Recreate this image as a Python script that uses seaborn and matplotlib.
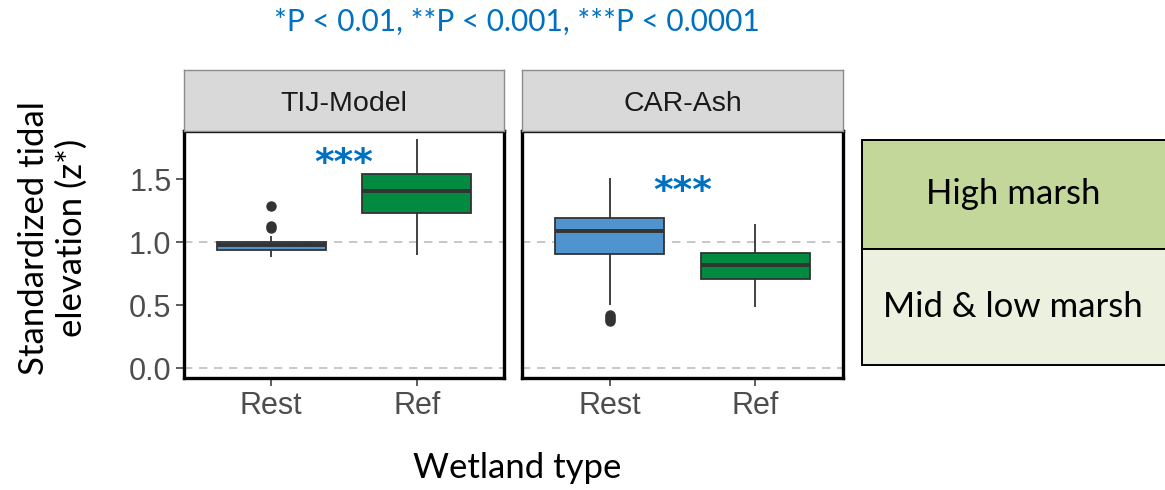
import matplotlib
matplotlib.use("Agg")
import matplotlib.pyplot as plt
from matplotlib.patches import Rectangle
import numpy as np
import pandas as pd
import seaborn as sns

# ---- data -------------------------------------------------------------
sites = ["TIJ-Model", "CAR-Ash"]
wetland_types = ["Rest", "Ref"]

# standardized tidal elevation (z*) observations per site / wetland type
tij_rest = [0.88, 0.90, 0.91, 0.92, 0.935, 0.94, 0.95, 0.96, 0.98, 0.985,
            0.99, 0.995, 1.00, 1.05, 1.11, 1.13, 1.285]
tij_ref = [0.897, 1.10, 1.233, 1.33, 1.405, 1.47, 1.54, 1.65, 1.815]
car_rest = [0.375, 0.39, 0.405, 0.42, 0.50, 0.905, 0.95, 0.99, 1.02, 1.05,
            1.087, 1.10, 1.12, 1.14, 1.16, 1.188, 1.22, 1.27, 1.33, 1.42, 1.513]
car_ref = [0.487, 0.62, 0.709, 0.77, 0.817, 0.87, 0.918, 1.03, 1.148]

star_labels = ["***", "***"]
star_heights = [1.62, 1.40]

zone_labels = ["High marsh", "Mid & low marsh"]
title_text = "*P < 0.01, **P < 0.001, ***P < 0.0001"

groups = {
    ("TIJ-Model", "Rest"): tij_rest,
    ("TIJ-Model", "Ref"): tij_ref,
    ("CAR-Ash", "Rest"): car_rest,
    ("CAR-Ash", "Ref"): car_ref,
}
rows = [(s, t, v) for (s, t), vals in groups.items() for v in vals]
df = pd.DataFrame(rows, columns=["site", "type", "z"])

# ---- style ------------------------------------------------------------
sns.set_theme(style="white")
plt.rcParams["font.family"] = ["Liberation Sans", "DejaVu Sans"]

W, H = 1165, 490
fig = plt.figure(figsize=(W / 100, H / 100), dpi=100)


def rect(l, t, r, b):
    return [l / W, 1 - b / H, (r - l) / W, (b - t) / H]


palette = {"Rest": "#4F94CF", "Ref": "#008B40"}
dark = "#333333"
tick_grey = "#4D4D4D"
blue_txt = "#0070C0"
ylim = (-0.077, 1.878)

panel_x = [(184, 504), (522, 843)]
for i, site in enumerate(sites):
    l, r = panel_x[i]
    ax = fig.add_axes(rect(l, 131.5, r, 378))
    strip = fig.add_axes(rect(l, 70, r, 131.5))

    sub = df[df["site"] == site]
    for yref in (0.0, 1.0):
        ax.axhline(yref, color="#BEBEBE", lw=1.2, ls=(0, (5, 4)), zorder=0)
    sns.boxplot(data=sub, x="type", y="z", hue="type", order=wetland_types,
                hue_order=wetland_types, palette=palette, width=0.75,
                linecolor=dark, linewidth=1.3, saturation=1, legend=False,
                showcaps=False,
                medianprops=dict(color=dark, linewidth=2.8),
                flierprops=dict(marker="o", markerfacecolor=dark,
                                markeredgecolor=dark, markersize=6.5),
                ax=ax, zorder=2)
    ax.set_xlim(-0.6, 1.6)
    ax.set_ylim(*ylim)
    ax.set_xlabel("")
    ax.set_ylabel("")
    for sp in ax.spines.values():
        sp.set_visible(True)
        sp.set_color("black")
        sp.set_linewidth(2.4)
    ax.tick_params(axis="x", length=6, width=1.1, color=dark, pad=3,
                   labelsize=22, labelcolor=tick_grey, bottom=True)
    if i == 0:
        ax.set_yticks([0.0, 0.5, 1.0, 1.5])
        ax.set_yticklabels(["0.0", "0.5", "1.0", "1.5"])
        ax.tick_params(axis="y", length=6, width=1.1, color=dark, pad=3,
                       labelsize=22, labelcolor=tick_grey, left=True)
    else:
        ax.set_yticks([])
    ax.text(0.5, star_heights[i], star_labels[i], ha="center", va="center",
            color=blue_txt, fontsize=27, fontweight="bold",
            fontfamily="DejaVu Sans")

    strip.set_facecolor("#D9D9D9")
    strip.set_xticks([])
    strip.set_yticks([])
    for sp in strip.spines.values():
        sp.set_color("#8C8C8C")
        sp.set_linewidth(1.0)
    strip.text(0.5, 0.45, site, ha="center", va="center", fontsize=20.5,
               color="#1A1A1A", transform=strip.transAxes)

# ---- shared labels ----------------------------------------------------
fig.text(517 / W, 1 - 22 / H, title_text, ha="center", va="center",
         color=blue_txt, fontsize=21.5, fontfamily="Lato")
fig.text(517 / W, 1 - 468 / H, "Wetland type", ha="center", va="center",
         color="black", fontsize=25, fontfamily="Lato")
fig.text(53 / W, 1 - 238 / H, "Standardized tidal\nelevation (z*)",
         ha="center", va="center", rotation=90, color="black", fontsize=25,
         fontfamily="Lato", linespacing=1.2)

# ---- marsh zone key ---------------------------------------------------
zones = [(140, 249, "#C4D79B", zone_labels[0]),
         (249, 365, "#EBF1DE", zone_labels[1])]
for top, bot, col, lab in zones:
    fig.patches.append(Rectangle((862 / W, 1 - bot / H), 320 / W,
                                 (bot - top) / H, transform=fig.transFigure,
                                 facecolor=col, edgecolor="black", lw=1.4))
    fig.text(1013 / W, 1 - (top + bot) / 2 / H, lab, ha="center",
             va="center", fontsize=25, fontfamily="Lato", color="black")

fig.savefig("out.png", dpi=100)
